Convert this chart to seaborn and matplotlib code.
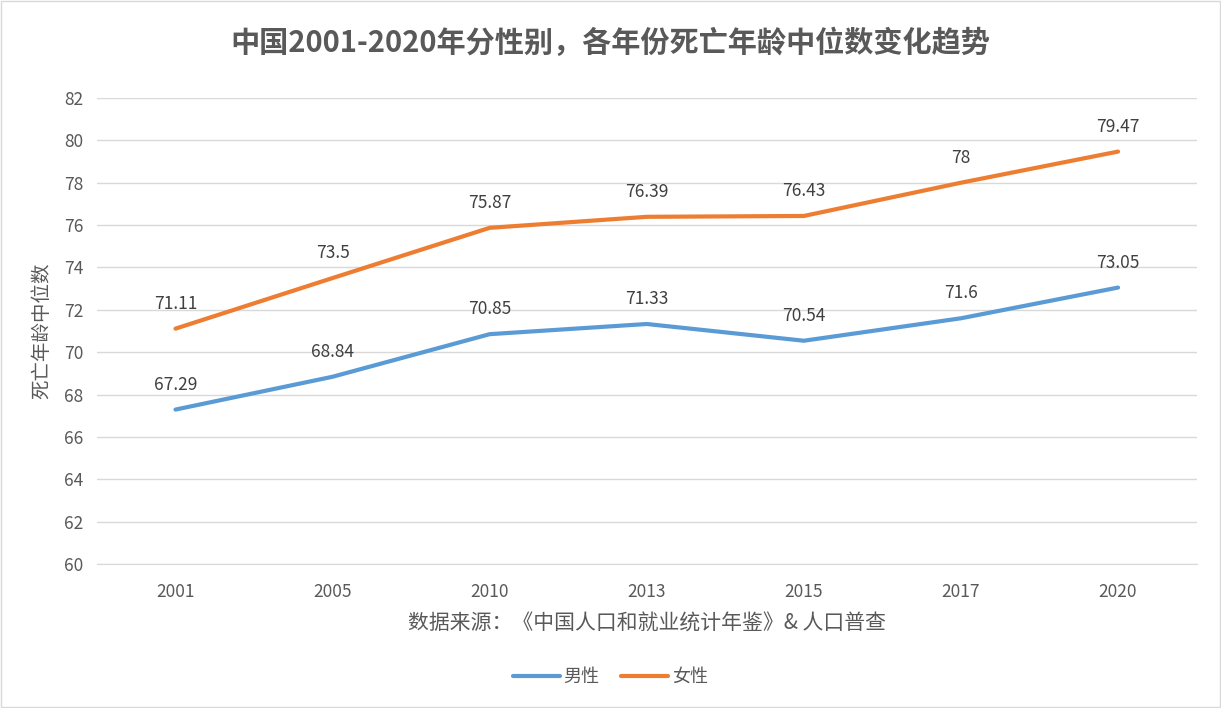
import pandas as pd
import matplotlib.pyplot as plt
import seaborn as sns

# data
years = ['2001', '2005', '2010', '2013', '2015', '2017', '2020']
male = [67.29, 68.84, 70.85, 71.33, 70.54, 71.6, 73.05]
female = [71.11, 73.5, 75.87, 76.39, 76.43, 78, 79.47]
male_labels = ['67.29', '68.84', '70.85', '71.33', '70.54', '71.6', '73.05']
female_labels = ['71.11', '73.5', '75.87', '76.39', '76.43', '78', '79.47']

df = pd.DataFrame({
    'year': years * 2,
    'value': male + female,
    'sex': ['男性'] * len(years) + ['女性'] * len(years),
})

sns.set_style('white')
plt.rcParams['font.family'] = ['Noto Sans CJK SC', 'DejaVu Sans']

text_color = '#595959'
colors = {'男性': '#5B9BD5', '女性': '#ED7D31'}

fig = plt.figure(figsize=(12.21, 7.08), dpi=100)
ax = fig.add_axes([0.0794, 0.2034, 0.9006, 0.6582])

sns.lineplot(data=df, x='year', y='value', hue='sex', palette=colors,
             linewidth=3, sort=False, legend=False, ax=ax)

# data labels
for i in range(len(years)):
    ax.annotate(male_labels[i], (i, male[i]), xytext=(0, 18), textcoords='offset points',
                ha='center', va='center', fontsize=12.5, color='#404040')
    ax.annotate(female_labels[i], (i, female[i]), xytext=(0, 18), textcoords='offset points',
                ha='center', va='center', fontsize=12.5, color='#404040')

ax.set_xlim(-0.5, len(years) - 0.5)
ax.set_ylim(60, 82)
ax.set_yticks(range(60, 83, 2))
ax.grid(axis='y', color='#D9D9D9', linewidth=1)
ax.set_axisbelow(True)
for side in ['top', 'right', 'left']:
    ax.spines[side].set_visible(False)
ax.spines['bottom'].set_color('#D9D9D9')
ax.tick_params(axis='both', length=0, labelsize=12.5, labelcolor=text_color)
ax.tick_params(axis='x', pad=14)
ax.tick_params(axis='y', pad=10)

ax.set_xlabel('数据来源：《中国人口和就业统计年鉴》& 人口普查', fontsize=15,
              color=text_color, labelpad=8)
ax.set_ylabel('死亡年龄中位数', fontsize=14, color=text_color, labelpad=8)

fig.suptitle('中国2001-2020年分性别，各年份死亡年龄中位数变化趋势', fontsize=21,
             fontweight='bold', color=text_color, y=0.96)

# legend at bottom
handles = [plt.Line2D([], [], color=colors[k], linewidth=3) for k in ['男性', '女性']]
fig.legend(handles, ['男性', '女性'], loc='center', bbox_to_anchor=(0.5, 0.044),
           ncol=2, frameon=False, fontsize=13, labelcolor=text_color,
           handlelength=2.6, handletextpad=0.2, columnspacing=1.2)

# light frame around the whole chart
fig.patches.append(plt.Rectangle((0.001, 0.001), 0.998, 0.998, transform=fig.transFigure,
                                 fill=False, edgecolor='#D9D9D9', linewidth=1))

plt.savefig('out.png', dpi=100)
